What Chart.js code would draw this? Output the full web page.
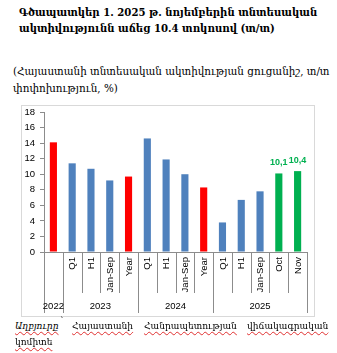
<!DOCTYPE html>
<html>
<head>
<meta charset="utf-8">
<script src="https://cdn.jsdelivr.net/npm/chart.js@4.4.1/dist/chart.umd.min.js"></script>
<style>
  html, body { margin: 0; padding: 0; background: #fff; }
  body { width: 337px; height: 353px; position: relative; overflow: hidden; font-family: "DejaVu Serif", serif; color: #000; }
  .t { position: absolute; white-space: nowrap; }
  #title { left: 19px; top: 5px; font-size: 11px; font-weight: bold; line-height: 15.5px; }
  #subtitle { left: 13px; top: 63px; font-size: 10px; line-height: 16.5px; }
  #frame { position: absolute; left: 21px; top: 105px; width: 292px; height: 210px; border: 1px solid #d9d9d9; }
  #wrap { position: absolute; left: 21px; top: 105px; width: 294px; height: 212px; }
  .src { position: absolute; white-space: nowrap; font-size: 10px; line-height: 14px; }
  .src span { text-decoration: underline wavy #e03030; text-decoration-thickness: 1px; text-underline-offset: 2px; }
</style>
</head>
<body>
<div id="title" class="t"><span id="t1">Գծապատկեր 1. 2025 թ. նոյեմբերին տնտեսական</span><br>ակտիվությունն աճեց 10.4 տոկոսով (տ/տ)</div>
<div id="subtitle" class="t"><span id="s1">(Հայաստանի տնտեսական ակտիվության ցուցանիշ, տ/տ</span><br>փոփոխություն, %)</div>
<div id="frame"></div>
<div id="wrap"><canvas id="c" width="294" height="212"></canvas></div>
<div class="src" style="left:15px;top:319px"><span><i>Աղբյուրը</i></span></div>
<div class="src" style="left:60px;top:314px">՝</div>
<div class="src" style="left:72px;top:319px"><span id="w2">Հայաստանի</span></div>
<div class="src" style="left:144px;top:319px"><span id="w3">Հանրապետության</span></div>
<div class="src" style="left:247px;top:319px"><span>վիճակագրական</span></div>
<div class="src" style="left:15px;top:335px"><span>կոմիտե</span></div>
<script>
// fit text sizes to reference widths (styling only)
function fit(boxEl, measureEl, target) {
  const fs = parseFloat(getComputedStyle(boxEl).fontSize);
  const w = measureEl.getBoundingClientRect().width;
  boxEl.style.fontSize = (fs * target / w).toFixed(2) + "px";
}
fit(document.getElementById("title"), document.getElementById("t1"), 299);
fit(document.getElementById("subtitle"), document.getElementById("s1"), 317);
(function () {
  const w3 = document.getElementById("w3");
  const fs = parseFloat(getComputedStyle(w3).fontSize);
  const k = 93 / w3.getBoundingClientRect().width;
  document.querySelectorAll(".src").forEach(el => el.style.fontSize = (fs * k).toFixed(2) + "px");
})();

const periods = ["", "Q1", "H1", "Jan-Sep", "Year", "Q1", "H1", "Jan-Sep", "Year", "Q1", "H1", "Jan-Sep", "Oct", "Nov"];
const years = ["2022", "2023", "2023", "2023", "2023", "2024", "2024", "2024", "2024", "2025", "2025", "2025", "2025", "2025"];
const growth = [14.1, 11.4, 10.7, 9.2, 9.7, 14.6, 11.9, 10.0, 8.3, 3.8, 6.7, 7.8, 10.1, 10.4];
const barKind = ["annual", "period", "period", "period", "annual", "period", "period", "period", "annual", "period", "period", "period", "month", "month"];
const yTicks = [0, 2, 4, 6, 8, 10, 12, 14, 16, 18];

const kindColor = { annual: "#ff0000", period: "#4f81bd", month: "#00b050" };
const lineColor = "#8c8c8c";
const labelFont = "9.5px 'Liberation Sans', Arial, sans-serif";

const multiAxis = {
  id: "multiAxis",
  afterDraw(chart) {
    const ctx = chart.ctx;
    const xs = chart.scales.x;
    const area = chart.chartArea;
    const n = periods.length;
    const half = (xs.getPixelForValue(1) - xs.getPixelForValue(0)) / 2;
    const y0 = area.bottom;
    ctx.save();
    ctx.strokeStyle = lineColor;
    ctx.lineWidth = 1;
    for (let i = 0; i <= n; i++) {
      const x = Math.round((i < n ? xs.getPixelForValue(i) - half : xs.getPixelForValue(n - 1) + half)) + 0.5;
      const groupEdge = i === 0 || i === n || years[i] !== years[i - 1];
      ctx.beginPath();
      ctx.moveTo(x, y0);
      ctx.lineTo(x, y0 + (groupEdge ? 61 : 41));
      ctx.stroke();
    }
    ctx.fillStyle = "#000";
    ctx.font = labelFont;
    ctx.textAlign = "right";
    ctx.textBaseline = "middle";
    for (let i = 0; i < n; i++) {
      if (!periods[i]) continue;
      const x = xs.getPixelForValue(i);
      ctx.save();
      ctx.translate(x + 0.5, y0 + 5);
      ctx.rotate(-Math.PI / 2);
      ctx.fillText(periods[i], 0, 0);
      ctx.restore();
    }
    ctx.textAlign = "center";
    let start = 0;
    for (let i = 1; i <= n; i++) {
      if (i === n || years[i] !== years[start]) {
        const a = xs.getPixelForValue(start) - half;
        const b = xs.getPixelForValue(i - 1) + half;
        ctx.fillText(years[start], (a + b) / 2, y0 + 54);
        start = i;
      }
    }
    const meta = chart.getDatasetMeta(0);
    ctx.fillStyle = kindColor.month;
    ctx.font = "bold 9px 'Liberation Sans', Arial, sans-serif";
    ctx.textBaseline = "bottom";
    for (let i = 0; i < n; i++) {
      if (barKind[i] !== "month") continue;
      const el = meta.data[i];
      ctx.fillText(growth[i].toFixed(1).replace(".", ","), el.x, el.y - 6);
    }
    ctx.restore();
  }
};

new Chart(document.getElementById("c"), {
  type: "bar",
  data: {
    labels: periods.map((p, i) => p || years[i]),
    datasets: [{
      data: growth,
      backgroundColor: barKind.map(k => kindColor[k]),
      barPercentage: 0.38,
      categoryPercentage: 1
    }]
  },
  options: {
    responsive: false,
    animation: false,
    events: [],
    layout: { padding: { left: 0, top: 7, right: 8, bottom: 0 } },
    plugins: { legend: { display: false }, tooltip: { enabled: false } },
    scales: {
      x: {
        grid: { display: false, drawTicks: false },
        border: { display: true, color: lineColor },
        ticks: { display: false },
        afterFit(s) { s.height = 65; }
      },
      y: {
        min: 0, max: 18,
        afterBuildTicks(s) { s.ticks = yTicks.map(v => ({ value: v })); },
        grid: { drawOnChartArea: false, drawTicks: true, tickLength: 4, color: lineColor },
        border: { display: true, color: lineColor },
        ticks: { padding: 5, color: "#000", font: { family: "'Liberation Sans', Arial, sans-serif", size: 9.5 } },
        afterFit(s) { s.width = 23; s.paddingTop = 0; s.paddingBottom = 0; }
      }
    }
  },
  plugins: [multiAxis]
});
</script>
</body>
</html>
